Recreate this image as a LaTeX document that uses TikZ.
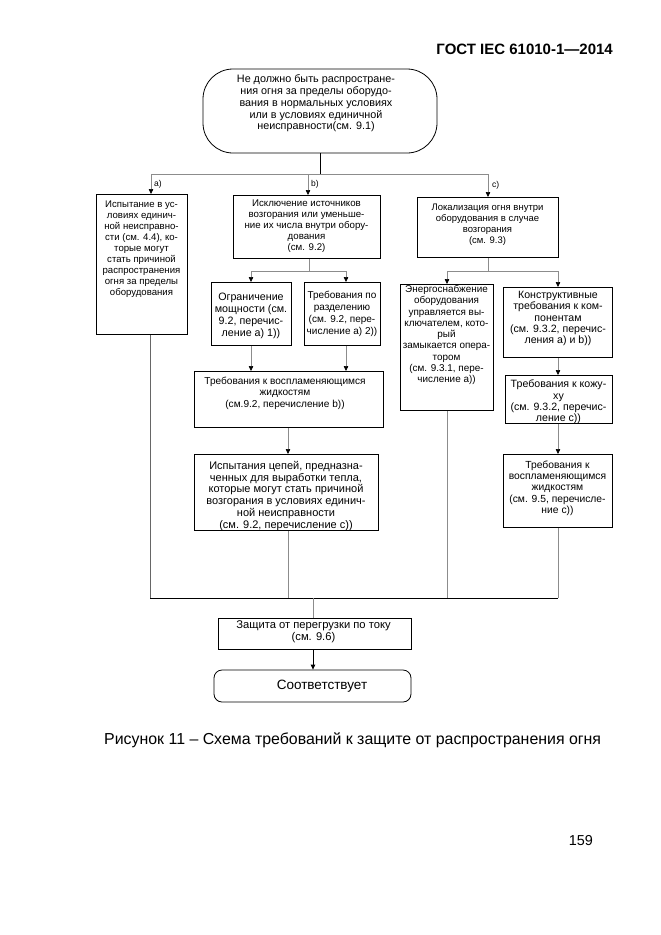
\documentclass[tikz,border=0pt]{standalone}
\usepackage{fontspec}
\setmainfont{Liberation Sans}
\usetikzlibrary{arrows.meta}
\tikzset{
  box/.style={draw=black, line width=0.8pt, inner sep=0pt, anchor=north west},
  conn/.style={draw=black!45, line width=0.6pt},
  blk/.style={draw=black, line width=0.8pt},
  arr/.style={-{Triangle[length=5pt,width=4.5pt,color=black]}},
  txt/.style={inner sep=0pt, align=center, anchor=center, font=\fontsize{10.4}{11.4}\selectfont},
  lbl/.style={inner sep=0pt, anchor=west, font=\fontsize{8.5}{9}\selectfont},
}
\begin{document}
\begin{tikzpicture}[x=1pt,y=-1pt]
\useasboundingbox[fill=white] (0,0) rectangle (661,935);

% header
\node[inner sep=0pt, anchor=base east, font=\fontsize{15}{18}\selectfont\bfseries] (hdr) at (613,54) {ГОСТ IEC 61010-1—2014};

% top rounded box
\node[draw=black, line width=0.8pt, rounded corners=30pt, minimum width=234pt, minimum height=84pt, inner sep=0pt] (top) at (320,111) {};
\node[txt, font=\fontsize{10.8}{11.7}\selectfont] (topt) at (316,103.5) {Не должно быть распростране-\\ния огня за пределы оборудо-\\вания в нормальных условиях\\или в условиях единичной\\неисправности(см. 9.1)};

% level 1 boxes
\node[box, minimum width=91pt, minimum height=140pt] (a) at (96,194) {};
\node[txt, font=\fontsize{9.6}{11}\selectfont] (at) at (141.5,249) {Испытание в ус-\\ловиях единич-\\ной неисправно-\\сти (см. 4.4), ко-\\торые могут\\стать причиной\\распространения\\огня за пределы\\оборудования};

\node[box, minimum width=147pt, minimum height=63pt] (b) at (233,195) {};
\node[txt, font=\fontsize{9.7}{11}\selectfont] (bt) at (306.5,226) {Исключение источников\\возгорания или уменьше-\\ние их числа внутри обору-\\дования\\(см. 9.2)};

\node[box, minimum width=141pt, minimum height=60pt] (c) at (417,197) {};
\node[txt, font=\fontsize{9.5}{11}\selectfont] (ct) at (487.5,225) {Локализация огня внутри\\оборудования в случае\\возгорания\\(см. 9.3)};

% branch b
\node[box, minimum width=80pt, minimum height=63pt] (d) at (211,282) {};
\node[txt, font=\fontsize{10.7}{11.8}\selectfont] (dt) at (251,316) {Ограничение\\мощности (см.\\9.2, перечис-\\ление а) 1))};

\node[box, minimum width=76pt, minimum height=63pt] (e) at (304,282) {};
\node[txt, font=\fontsize{10}{12}\selectfont] (et) at (342,314) {Требования по\\разделению\\(см. 9.2, пере-\\числение а) 2))};

\node[box, minimum width=189pt, minimum height=56pt] (f) at (194,371) {};
\node[txt, font=\fontsize{10.1}{11.5}\selectfont] (ft) at (285,393) {Требования к воспламеняющимся\\жидкостям\\(см.9.2, перечисление b))};

\node[box, minimum width=184pt, minimum height=76pt] (g) at (194,454) {};
\node[txt, font=\fontsize{11}{11.9}\selectfont] (gt) at (286,496) {Испытания цепей, предназна-\\ченных для выработки тепла,\\которые могут стать причиной\\возгорания в условиях единич-\\ной неисправности\\(см. 9.2, перечисление с))};

% branch c
\node[box, minimum width=93pt, minimum height=126pt] (h) at (400,284) {};
\node[txt, font=\fontsize{9.9}{11.3}\selectfont] (ht) at (446.5,335) {Энергоснабжение\\оборудования\\управляется вы-\\ключателем, кото-\\рый\\замыкается опера-\\тором\\(см. 9.3.1, пере-\\числение а))};

\node[box, minimum width=109pt, minimum height=70pt] (i) at (503,287) {};
\node[txt, font=\fontsize{10.6}{11.3}\selectfont] (it) at (558,318.5) {Конструктивные\\требования к ком-\\понентам\\(см. 9.3.2, перечис-\\ления а) и b))};

\node[box, minimum width=107pt, minimum height=48pt] (j) at (505,375) {};
\node[txt, font=\fontsize{10.6}{11.3}\selectfont] (jt) at (558.5,402) {Требования к кожу-\\ху\\(см. 9.3.2, перечис-\\ление с))};

\node[box, minimum width=109pt, minimum height=73pt] (k) at (503,454) {};
\node[txt, font=\fontsize{10.3}{11.3}\selectfont] (kt) at (557.5,488) {Требования к\\воспламеняющимся\\жидкостям\\(см. 9.5, перечисле-\\ние с))};

% bottom
\node[box, minimum width=193pt, minimum height=31pt] (l) at (218,618) {};
\node[txt, font=\fontsize{11.2}{12}\selectfont] (lt) at (313.5,632) {Защита от перегрузки по току\\(см. 9.6)};

\node[draw=black, line width=0.8pt, rounded corners=8pt, minimum width=197pt, minimum height=32pt, inner sep=0pt] (m) at (312.5,686) {};
\node[txt, font=\fontsize{13.5}{15}\selectfont] (mt) at (322,686) {Соответствует};

% junction coordinates
\coordinate (ja) at (151,174);
\coordinate (jb) at (308,174);
\coordinate (jc) at (488,174);
\coordinate (xb) at (309,271);
\coordinate (jd) at (251,271);
\coordinate (je) at (346,271);
\coordinate (jh) at (447,271);
\coordinate (ji) at (558,271);
\coordinate (xg) at (288,0);
\coordinate (bl) at (150,598);
\coordinate (br) at (558,598);
\coordinate (bm) at (313,598);

% connectors, top level
\draw[blk] (top.south) -- (top.south |- ja);
\draw[conn] (ja) -- (jc);
\draw[conn,arr] (ja) -- (ja |- a.north);
\draw[conn,arr] (jb) -- (jb |- b.north);
\draw[conn,arr] (jc) -- (jc |- c.north);
\node[lbl] (la) at (154,184) {a)};
\node[lbl] (lb) at (311,184) {b)};
\node[lbl] (lc) at (492,185) {c)};

% branch b connectors
\draw[conn] (xb |- b.south) -- (xb);
\draw[conn] (jd) -- (je);
\draw[conn,arr] (jd) -- (jd |- d.north);
\draw[conn,arr] (je) -- (je |- e.north);
\draw[conn,arr] (jd |- d.south) -- (jd |- f.north);
\draw[conn,arr] (je |- e.south) -- (je |- f.north);
\draw[conn,arr] (xg |- f.south) -- (xg |- g.north);
\draw[conn] (xg |- g.south) -- (xg |- bl);

% branch c connectors
\draw[conn] (jc |- c.south) -- (jc |- jh);
\draw[conn] (jh) -- (ji);
\draw[conn,arr] (jh) -- (jh |- h.north);
\draw[conn,arr] (ji) -- (ji |- i.north);
\draw[conn,arr] (ji |- i.south) -- (ji |- j.north);
\draw[conn,arr] (ji |- j.south) -- (ji |- k.north);
\draw[conn] (ji |- k.south) -- (br);
\draw[conn] (jh |- h.south) -- (jh |- bl);

% left branch and bottom
\draw[draw=black!60, line width=0.7pt] (bl |- a.south) -- (bl);
\draw[blk, line width=1pt] (bl) -- (br);
\draw[conn] (bm) -- (bm |- l.north);
\draw[blk,arr] (bm |- l.south) -- (bm |- m.north);

% caption and page number
\node[inner sep=0pt, anchor=base west, font=\fontsize{15.9}{18}\selectfont] (cap) at (104,744) {Рисунок 11 – Схема требований к защите от распространения огня};
\node[inner sep=0pt, anchor=base east, font=\fontsize{14.4}{16}\selectfont] (pg) at (593,845) {159};
\end{tikzpicture}
\end{document}
